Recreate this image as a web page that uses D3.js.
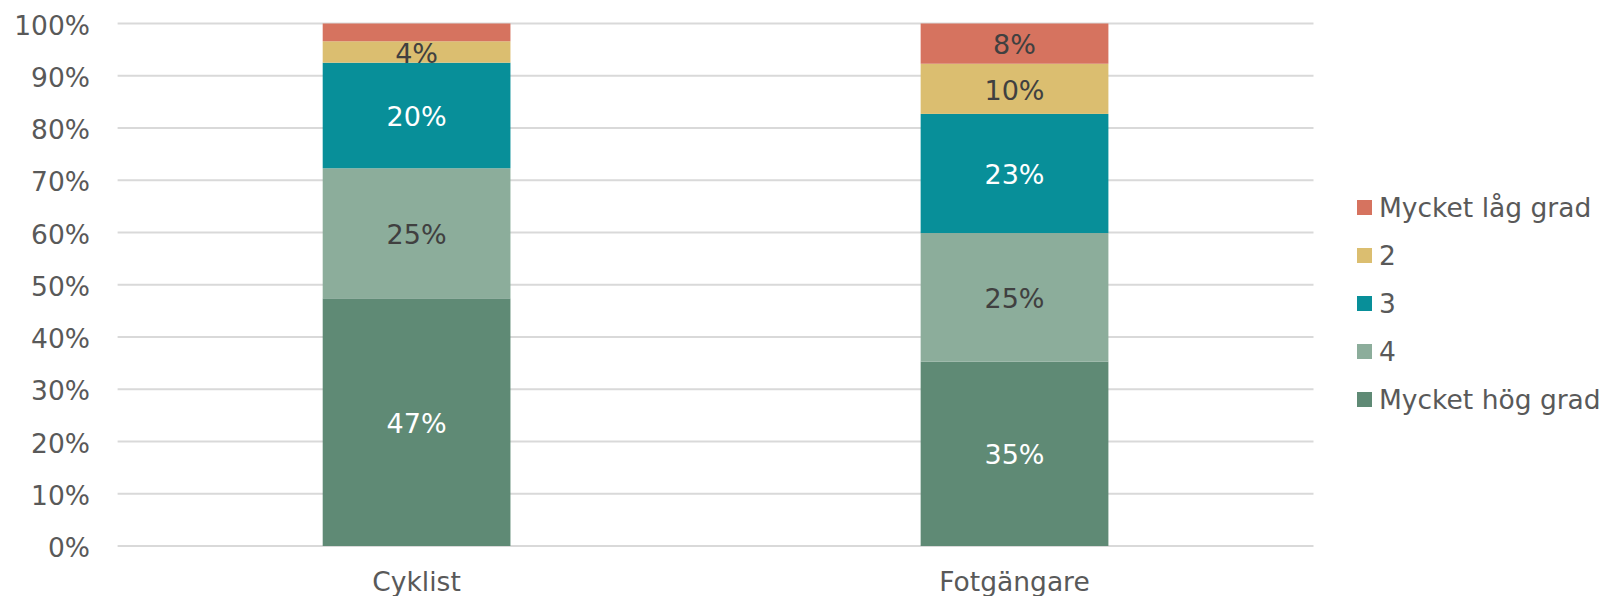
<!DOCTYPE html>
<html>
<head>
<meta charset="utf-8">
<script src="https://cdn.jsdelivr.net/npm/d3@7"></script>
<style>
  body { margin: 0; background: #fff; }
  svg text { font-family: "DejaVu Sans", Verdana, sans-serif; }
</style>
</head>
<body>
<svg id="chart" width="1604" height="596"></svg>
<script>
"use strict";

const categories = ["Cyklist", "Fotgängare"];
const seriesNames = ["Mycket hög grad", "4", "3", "2", "Mycket låg grad"];
const seriesColors = ["#5f8a75", "#8cad9b", "#088f99", "#dbbe70", "#d6735f"];
const labelColors = ["#ffffff", "#404040", "#ffffff", "#404040", "#404040"];
// values per series, one entry per category (percent)
const valuesHog = [47.4, 35.3];
const values4 = [24.9, 24.6];
const values3 = [20.2, 22.8];
const values2 = [4.1, 9.6];
const valuesLag = [3.4, 7.7];
// data labels as shown (empty = not shown)
const labelsHog = ["47%", "35%"];
const labels4 = ["25%", "25%"];
const labels3 = ["20%", "23%"];
const labels2 = ["4%", "10%"];
const labelsLag = ["", "8%"];
const yTicks = [0, 10, 20, 30, 40, 50, 60, 70, 80, 90, 100];

const seriesValues = [valuesHog, values4, values3, values2, valuesLag];
const seriesLabels = [labelsHog, labels4, labels3, labels2, labelsLag];

const FONT = 26.5;
const LABEL_FONT = 27;
const TEXT_GRAY = "#595959";

const svg = d3.select("#chart");
const plotLeft = 117.6, plotRight = 1313.5, plotTop = 23.5, plotBottom = 546;

const x = d3.scaleBand().domain(categories).range([plotLeft, plotRight]).padding(0);
const barWidth = x.bandwidth() * 0.314;
const y = d3.scaleLinear().domain([0, 100]).range([plotBottom, plotTop]);

// gridlines
svg.append("g")
  .selectAll("line")
  .data(yTicks)
  .join("line")
  .attr("x1", plotLeft)
  .attr("x2", plotRight)
  .attr("y1", (d) => y(d))
  .attr("y2", (d) => y(d))
  .attr("stroke", "#d9d9d9")
  .attr("stroke-width", 2);

// y axis labels
svg.append("g")
  .selectAll("text")
  .data(yTicks)
  .join("text")
  .attr("x", 90)
  .attr("y", (d) => y(d) + 1.5)
  .attr("dy", "0.36em")
  .attr("text-anchor", "end")
  .attr("font-size", FONT)
  .attr("fill", TEXT_GRAY)
  .text((d) => d + "%");

// stack data
const rows = categories.map((c, i) => {
  const row = { category: c };
  seriesNames.forEach((s, k) => (row[s] = seriesValues[k][i]));
  return row;
});
const stacked = d3.stack().keys(seriesNames)(rows);

const layers = svg.append("g")
  .selectAll("g")
  .data(stacked)
  .join("g")
  .attr("fill", (d, k) => seriesColors[k]);

layers.selectAll("rect")
  .data((d) => d)
  .join("rect")
  .attr("x", (d) => x(d.data.category) + (x.bandwidth() - barWidth) / 2)
  .attr("width", barWidth)
  .attr("y", (d) => y(d[1]))
  .attr("height", (d) => y(d[0]) - y(d[1]));

// data labels
stacked.forEach((layer, k) => {
  svg.append("g")
    .selectAll("text")
    .data(layer)
    .join("text")
    .attr("x", (d) => x(d.data.category) + x.bandwidth() / 2)
    .attr("y", (d) => (y(d[0]) + y(d[1])) / 2 + 1)
    .attr("dy", "0.36em")
    .attr("text-anchor", "middle")
    .attr("font-size", LABEL_FONT)
    .attr("fill", labelColors[k])
    .text((d, i) => seriesLabels[k][i]);
});

// x axis labels
svg.append("g")
  .selectAll("text")
  .data(categories)
  .join("text")
  .attr("x", (d) => x(d) + x.bandwidth() / 2)
  .attr("y", 581)
  .attr("dy", "0.36em")
  .attr("text-anchor", "middle")
  .attr("font-size", FONT)
  .attr("fill", TEXT_GRAY)
  .text((d) => d);

// legend (top series first)
const legendOrder = d3.range(seriesNames.length).reverse();
const legend = svg.append("g")
  .selectAll("g")
  .data(legendOrder)
  .join("g")
  .attr("transform", (k, i) => `translate(1357, ${207.5 + i * 48})`);

legend.append("rect")
  .attr("x", 0)
  .attr("y", -7.5)
  .attr("width", 15)
  .attr("height", 15)
  .attr("fill", (k) => seriesColors[k]);

legend.append("text")
  .attr("x", 22)
  .attr("y", 0)
  .attr("dy", "0.36em")
  .attr("font-size", FONT)
  .attr("fill", TEXT_GRAY)
  .text((k) => seriesNames[k]);
</script>
</body>
</html>
